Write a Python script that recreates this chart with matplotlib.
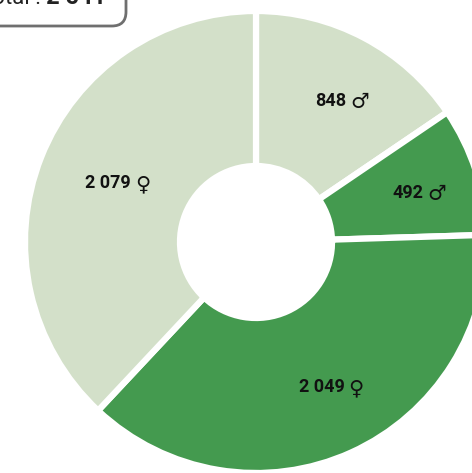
import numpy as np
import matplotlib
matplotlib.use("Agg")
from matplotlib import pyplot as plt
from matplotlib.patches import FancyBboxPatch

# data, clockwise from 12 o'clock
values = [848, 492, 2049, 2079]
symbols = ["♂", "♂", "♀", "♀"]
colors = ["#d3e0c9", "#449a4f", "#449a4f", "#d3e0c9"]
total_label = "Total : "
total_value = "2 541"

def fmt(v):
    return "{:,}".format(v).replace(",", " ")

W, H = 472, 473
fig = plt.figure(figsize=(W / 100, H / 100), dpi=100)
ax = fig.add_axes([0, 0, 1, 1])

R = 231.0  # px per unit radius
cx, cy = 256, 242  # centre in px (from top-left)

wedges, _ = ax.pie(values, colors=colors, startangle=90, counterclock=False,
                   radius=1.0,
                   wedgeprops=dict(width=1 - 76 / R, edgecolor="white", linewidth=4.5))
ax.set_xlim(-cx / R, (W - cx) / R)
ax.set_ylim(-(H - cy) / R, cy / R)
ax.set_aspect("equal")
ax.axis("off")

total = sum(values)
start = 90.0
for v, s in zip(values, symbols):
    span = 360.0 * v / total
    mid = np.deg2rad(start - span / 2)
    start -= span
    r = 0.69
    t = ax.text(r * np.cos(mid), r * np.sin(mid), fmt(v),
                ha="center", va="center", fontsize=13, fontweight="bold",
                family=["Roboto", "DejaVu Sans"], color="#111111")
    ax.annotate(s, xy=(1, 0.5), xycoords=t, xytext=(3, -0.5),
                textcoords="offset points", ha="left", va="center",
                fontsize=15, family="DejaVu Sans", color="#111111")

# cropped total box at top left
box = FancyBboxPatch((-30 / W, 1 - 26 / H), 156 / W, 60 / H,
                     boxstyle="round,pad=0,rounding_size=0.03",
                     transform=fig.transFigure, facecolor="white",
                     edgecolor="#6f6f6f", linewidth=2, clip_on=False)
fig.patches.append(box)
fig.text(46 / W, 1 - 4.5 / H, total_label, ha="right", va="baseline",
         fontsize=16, family=["Roboto", "DejaVu Sans"], color="#222222")
fig.text(46 / W, 1 - 4.5 / H, total_value, ha="left", va="baseline",
         fontsize=17, fontweight="bold", family=["Roboto", "DejaVu Sans"],
         color="#222222")

fig.savefig("out.png", dpi=100)
